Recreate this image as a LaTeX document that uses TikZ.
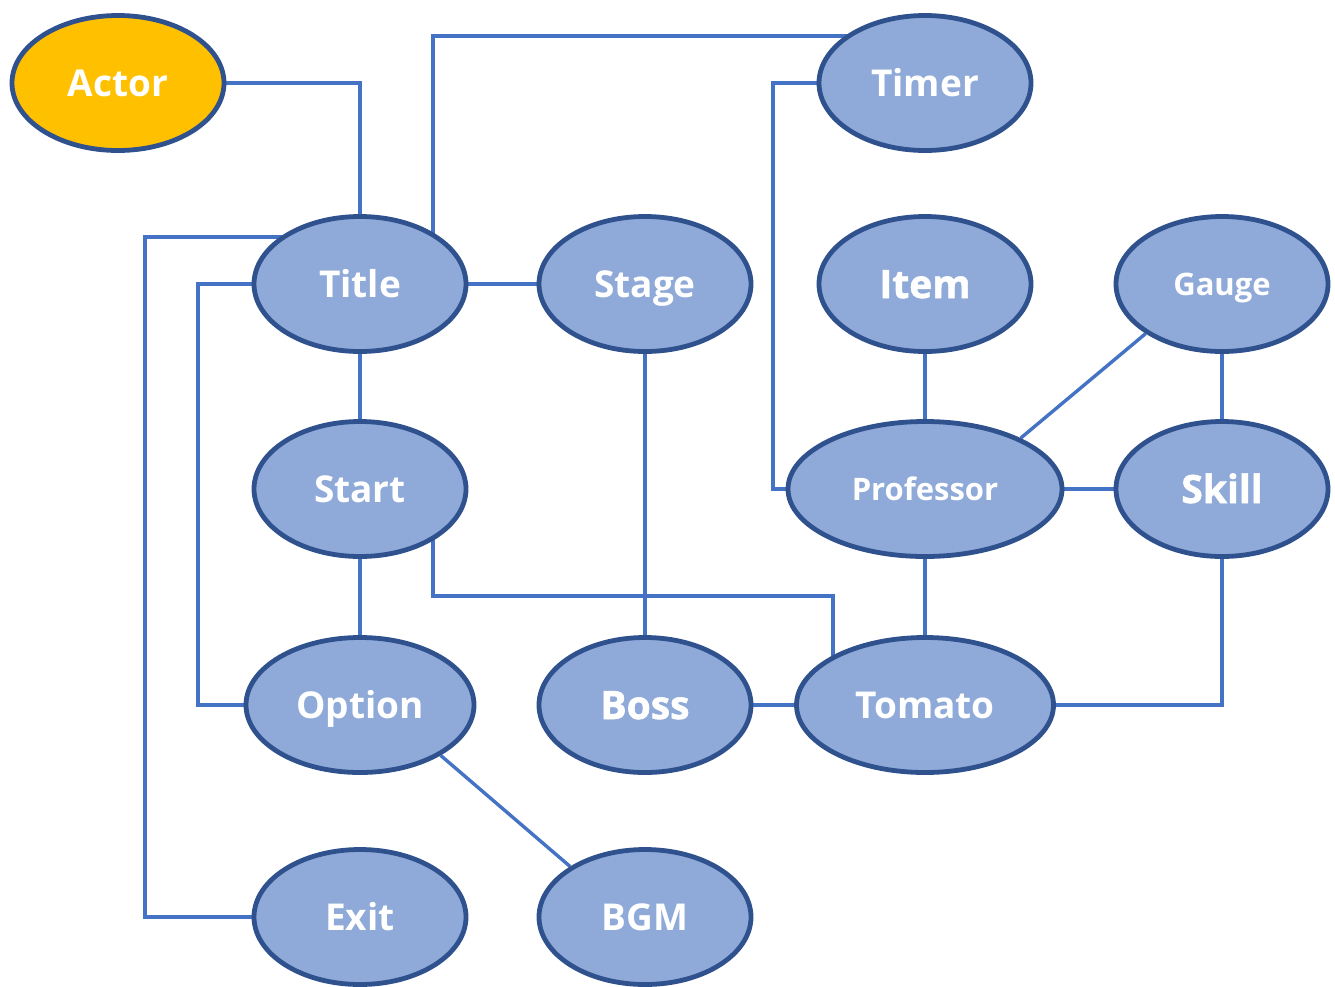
\documentclass[tikz,border=0pt]{standalone}
\usepackage{fontspec}
\setmainfont{Open Sans}
\newfontfamily\heavyfont[BoldFeatures={FakeBold=1.5}]{Open Sans}
\usetikzlibrary{shapes.geometric,backgrounds}

\definecolor{nodefill}{RGB}{143,170,216}
\definecolor{nodeedge}{RGB}{47,82,143}
\definecolor{wire}{RGB}{68,114,196}
\definecolor{actorfill}{RGB}{255,192,0}

\tikzset{
  entity/.style={ellipse, draw=nodeedge, line width=4.8pt, fill=nodefill,
    minimum width=212pt, minimum height=135pt, inner sep=0pt,
    text=white, text height=26.6pt, text depth=0pt,
    font=\bfseries\fontsize{37}{42}\selectfont},
  heavy/.style={text height=28pt, font=\heavyfont\bfseries\fontsize{39}{44}\selectfont},
  small/.style={text height=22.3pt, font=\bfseries\fontsize{31}{36}\selectfont},
  link/.style={draw=wire, line width=3.4pt}
}

\begin{document}
\begin{tikzpicture}[x=1pt,y=-1pt]
\useasboundingbox (0,0) rectangle (1335,986);

% entities
\node[entity, fill=actorfill] (Actor) at (118,83) {Actor};
\node[entity] (Timer)     at (925,83)  {Timer};
\node[entity] (Title)     at (360,284) {Title};
\node[entity] (Stage)     at (645,284) {Stage};
\node[entity, heavy] (Item) at (925,284) {Item};
\node[entity, small] (Gauge) at (1222,284) {Gauge};
\node[entity] (Start)     at (360,489) {Start};
\node[entity, small, minimum width=274pt] (Professor) at (925,489) {Professor};
\node[entity, heavy] (Skill) at (1222,489) {Skill};
\node[entity, minimum width=228pt] (Option) at (360,705) {Option};
\node[entity, heavy] (Boss) at (645,705) {Boss};
\node[entity, minimum width=257pt] (Tomato) at (925,705) {Tomato};
\node[entity] (Exit)      at (360,917) {Exit};
\node[entity] (BGM)       at (645,917) {BGM};

% bend points of the routed links
\coordinate (timerrun) at (433,36);
\coordinate (exitrun)  at (145,237);
\coordinate (optrun)   at (198,284);
\coordinate (profrun)  at (773,83);
\coordinate (tomrunA)  at (433,596);
\coordinate (tomrunB)  at (833,596);

% links, kept behind the ellipses
\begin{scope}[on background layer]
  \draw[link] (Actor) -| (Title);
  \draw[link] (Title -| timerrun) -- (timerrun) -- (timerrun -| Timer);
  \draw[link] (Title |- exitrun) -- (exitrun) |- (Exit);
  \draw[link] (Title) -- (optrun) |- (Option);
  \draw[link] (Title) -- (Stage);
  \draw[link] (Title) -- (Start);
  \draw[link] (Start) -- (Option);
  \draw[link] (Start -| tomrunA) -- (tomrunA) -- (tomrunB) -- (tomrunB |- Tomato);
  \draw[link] (Stage) -- (Boss);
  \draw[link] (Boss) -- (Tomato);
  \draw[link] (Timer) -- (profrun) |- (Professor);
  \draw[link] (Item) -- (Professor);
  \draw[link] (Gauge.213.5) -- (Professor.28);
  \draw[link] (Gauge) -- (Skill);
  \draw[link] (Professor) -- (Skill);
  \draw[link] (Professor) -- (Tomato);
  \draw[link] (Skill) |- (Tomato);
  \draw[link] (Option.-32) -- (BGM.146);
\end{scope}
\end{tikzpicture}
\end{document}
